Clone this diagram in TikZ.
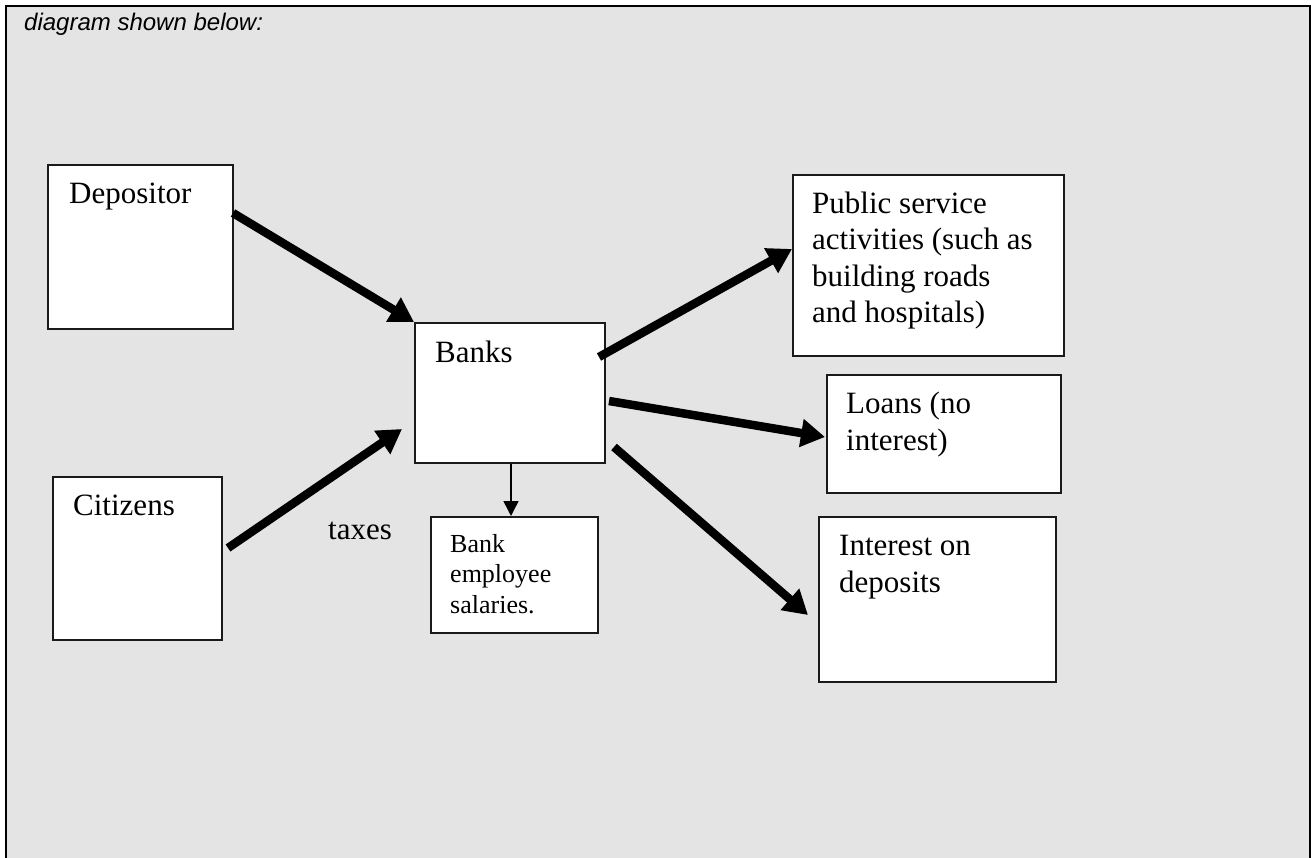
\documentclass[tikz,border=0pt]{standalone}
\usepackage{fontspec}
\setmainfont{Liberation Serif}
\newfontfamily\headfont{Liberation Sans}
\usetikzlibrary{arrows.meta,calc}
\definecolor{panel}{HTML}{E4E4E4}
\definecolor{ink}{HTML}{1A1A1A}
\begin{document}
\begin{tikzpicture}[x=1pt,y=-1pt,
  box/.style={draw=ink,line width=2pt,fill=white,inner sep=0pt,anchor=north west},
  lbl/.style={inner sep=0pt,anchor=base west,align=left,font=\fontsize{31}{36.5}\selectfont},
  small/.style={inner sep=0pt,anchor=base west,align=left,font=\fontsize{26}{30.5}\selectfont},
  flow/.style={line width=8.5pt,-{Triangle[length=24pt,width=27pt]}},
  thin/.style={line width=1.5pt,-{Triangle[length=15pt,width=15pt]}}]
\useasboundingbox (0,0) rectangle (1311,858);
\fill[white] (0,0) rectangle (1311,858);
% panel with its frame open at the bottom
\fill[panel] (6,6) rectangle (1310,858);
\draw[line width=2.5pt] (6,858) -- (6,6) -- (1310,6) -- (1310,858);
\node[inner sep=0pt,anchor=base west,font=\headfont\itshape\fontsize{24}{28}\selectfont] (head) at (24,31) {diagram shown below:};

% boxes
\node[box,minimum width=185pt,minimum height=164pt] (dep) at (47,164) {};
\node[box,minimum width=169pt,minimum height=163pt] (cit) at (52,476) {};
\node[box,minimum width=190pt,minimum height=140pt] (banks) at (414,322) {};
\node[box,minimum width=167pt,minimum height=116pt] (sal) at (430,516) {};
\node[box,minimum width=271pt,minimum height=181pt] (pub) at (792,174) {};
\node[box,minimum width=234pt,minimum height=118pt] (loans) at (826,374) {};
\node[box,minimum width=237pt,minimum height=165pt] (int) at (818,516) {};

% texts (multi-line texts are anchored at the baseline of their last line)
\node[lbl] (tdep) at (69,204) {Depositor};
\node[lbl] (tcit) at (73,515) {Citizens};
\node[lbl] (tbanks) at (435,362) {Banks};
\node[small] (tsal) at (450,613) {Bank\\employee\\salaries.};
\node[lbl] (tpub) at (812,323) {Public service\\activities (such as\\building roads\\and hospitals)};
\node[lbl] (tloans) at (846,450) {Loans (no\\interest)};
\node[lbl] (tint) at (839,592) {Interest on\\deposits};
\node[lbl] (taxes) at (328,539) {taxes};

% flows
\draw[flow] ($(dep.north east)+(-1,49)$) -- (banks.north west);
\draw[flow] ($(cit.north east)+(5,72)$) -- ($(banks.north west)+(-12,107)$);
\draw[flow] ($(banks.north east)+(-7,35)$) -- ($(pub.north west)+(0,75)$);
\draw[flow] ($(banks.north east)+(3,79)$) -- ($(loans.north west)+(-1,63)$);
\draw[flow] ($(banks.north east)+(8,125)$) -- ($(int.north west)+(-10,99)$);
\coordinate (drop) at ($(banks.south)+(1,0)$);
\draw[thin] (drop) -- (drop |- sal.north);
\end{tikzpicture}
\end{document}
